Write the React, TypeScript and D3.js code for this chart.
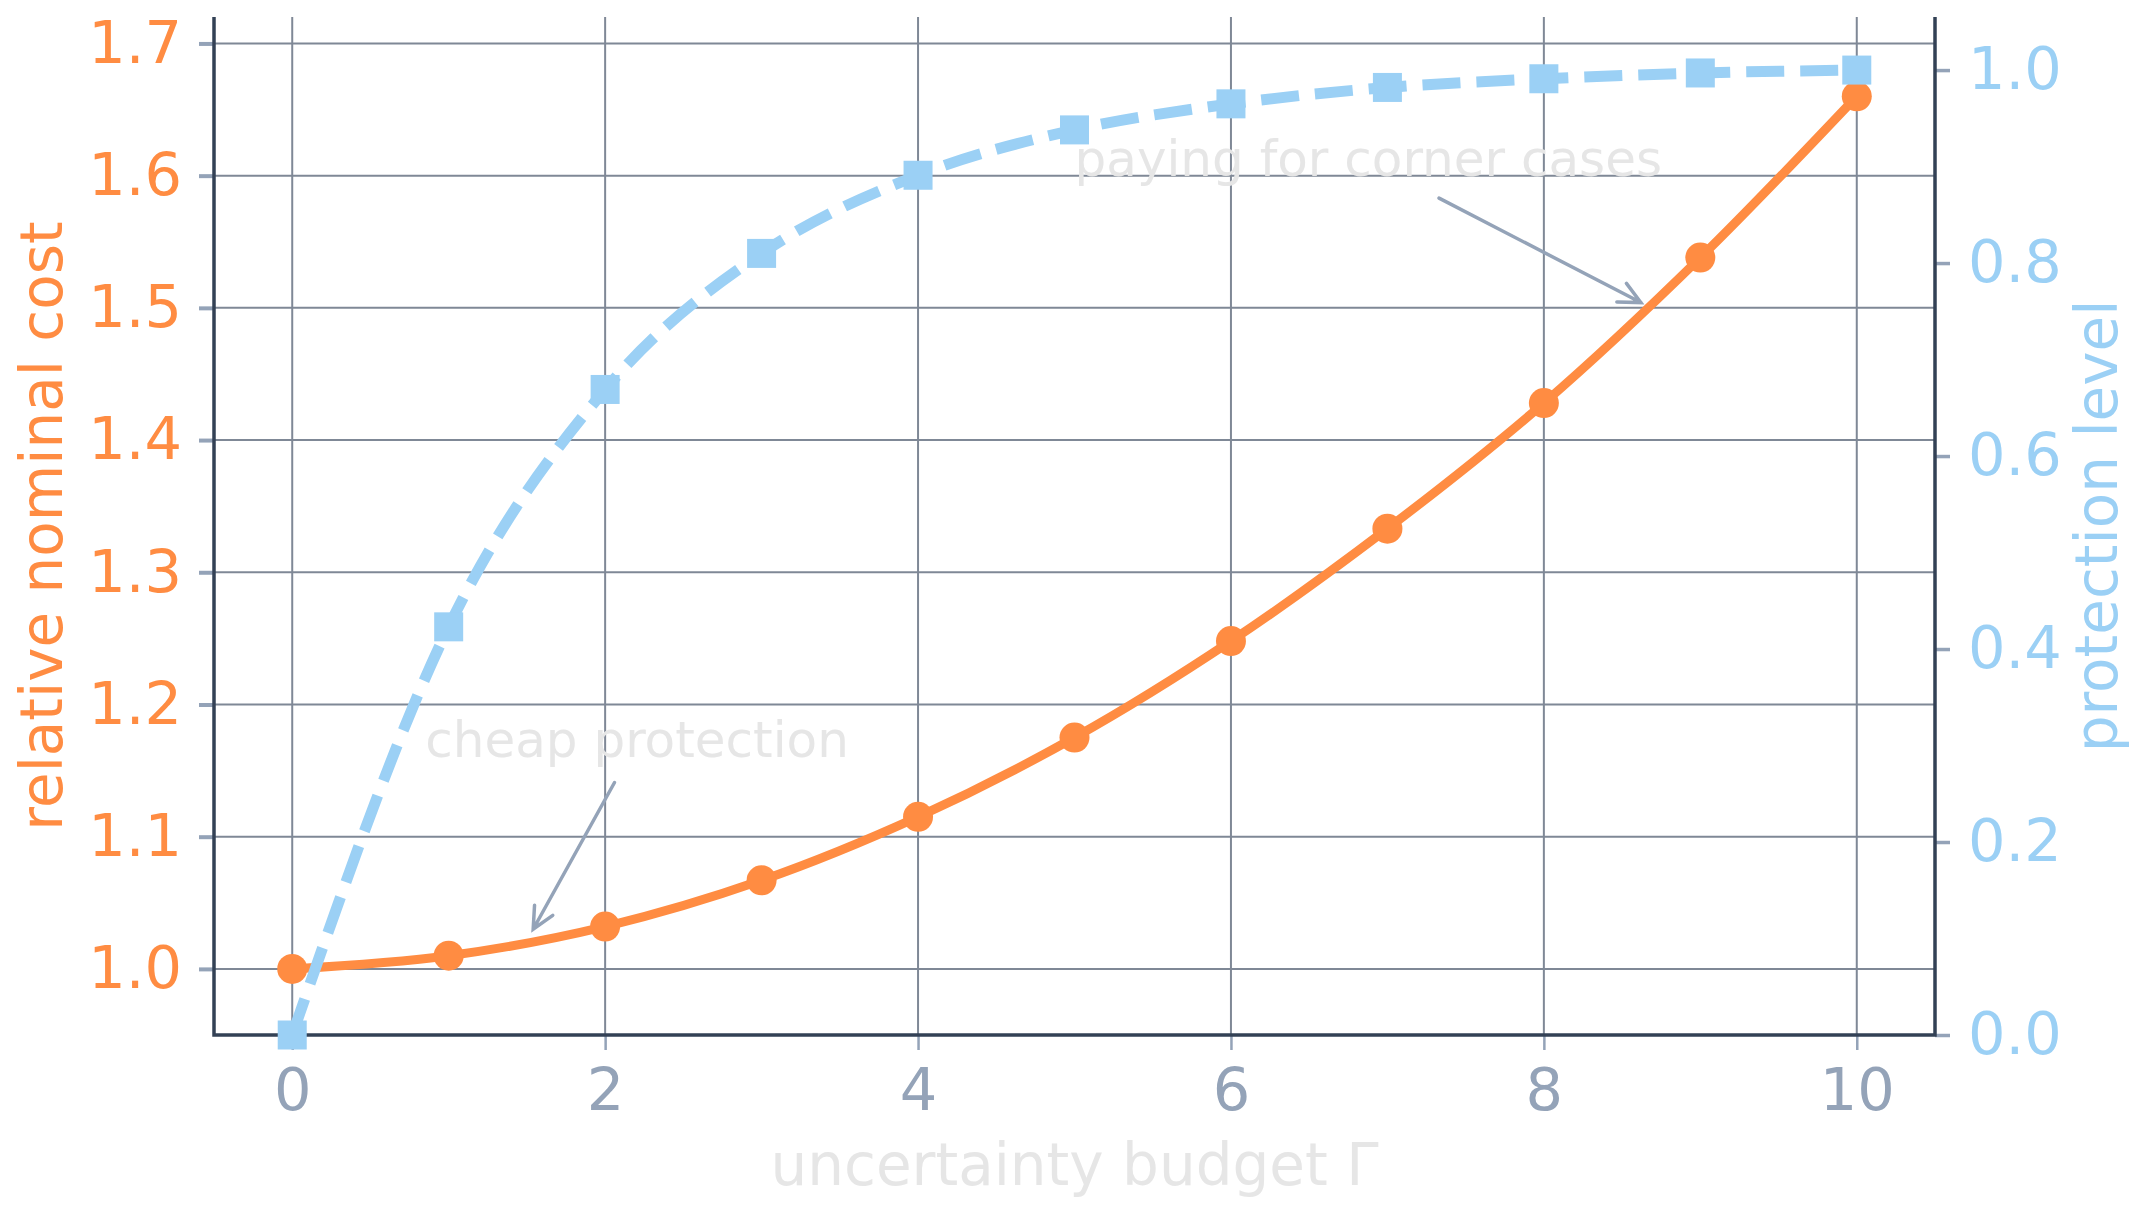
import React, { useEffect, useRef } from 'react';
import * as d3 from 'd3';

// uncertainty budget values on the x axis
const budgets = [0, 1, 2, 3, 4, 5, 6, 7, 8, 9, 10];
// relative nominal cost (left axis)
const nominalCost = [1.0, 1.01, 1.032, 1.067, 1.115, 1.175, 1.248, 1.333, 1.428, 1.538, 1.66];
// protection level (right axis)
const protection = [0.0, 0.423, 0.669, 0.81, 0.891, 0.938, 0.965, 0.982, 0.991, 0.997, 1.0];

const xTicks = [0, 2, 4, 6, 8, 10];
const leftTicks = [1.0, 1.1, 1.2, 1.3, 1.4, 1.5, 1.6, 1.7];
const rightTicks = [0.0, 0.2, 0.4, 0.6, 0.8, 1.0];

// annotations: text anchor and arrow [from, to] in data coords (left axis)
const annotations = [
  { text: 'paying for corner cases', at: [5.0, 1.6], from: [7.33, 1.583], to: [8.62, 1.504] },
  { text: 'cheap protection', at: [0.85, 1.16], from: [2.06, 1.141], to: [1.54, 1.03] },
];

const W = 2147;
const H = 1216;
const ORANGE = '#ff8c42';
const BLUE = '#9bd0f5';
const SPINE = '#334155';
const TICK = '#94a3b8';
const GRID = '#7f8896';
const FAINT = '#e6e6e6';
const FONT = '"DejaVu Sans", sans-serif';

const App = () => {
  const svgRef = useRef(null);

  useEffect(() => {
    document.body.style.margin = '0';
    const svg = d3.select(svgRef.current);
    svg.selectAll('*').remove();

    const plot = { left: 214, right: 1935, top: 17, bottom: 1035 };

    const x = d3.scaleLinear().domain([-0.5, 10.5]).range([plot.left, plot.right]);
    const yL = d3.scaleLinear().domain([0.95, 1.72]).range([plot.bottom, plot.top]);
    const yR = d3.scaleLinear().domain([0, 1.055]).range([plot.bottom, plot.top]);

    // grid
    const grid = svg.append('g');
    grid
      .selectAll('line.v')
      .data(xTicks)
      .join('line')
      .attr('x1', (d) => x(d))
      .attr('x2', (d) => x(d))
      .attr('y1', plot.top)
      .attr('y2', plot.bottom)
      .attr('stroke', GRID)
      .attr('stroke-width', 2);
    grid
      .selectAll('line.h')
      .data(leftTicks)
      .join('line')
      .attr('x1', plot.left)
      .attr('x2', plot.right)
      .attr('y1', (d) => yL(d))
      .attr('y2', (d) => yL(d))
      .attr('stroke', GRID)
      .attr('stroke-width', 2);

    // axes
    const xAxis = d3.axisBottom(x).tickValues(xTicks).tickSize(15).tickPadding(18).tickFormat(d3.format('d'));
    const gx = svg.append('g').attr('transform', `translate(0,${plot.bottom})`).call(xAxis);
    gx.select('.domain').remove();
    gx.selectAll('line').attr('stroke', TICK).attr('stroke-width', 2.5);
    gx.selectAll('text')
      .attr('fill', TICK)
      .style('font-size', '59px')
      .style('font-family', FONT);

    const leftAxis = d3.axisLeft(yL).tickValues(leftTicks).tickSize(15).tickPadding(17).tickFormat(d3.format('.1f'));
    const gl = svg.append('g').attr('transform', `translate(${plot.left},0)`).call(leftAxis);
    gl.select('.domain').remove();
    gl.selectAll('line').attr('stroke', TICK).attr('stroke-width', 4);
    gl.selectAll('text')
      .attr('fill', ORANGE)
      .style('font-size', '59px')
      .style('font-family', FONT);

    const rightAxis = d3.axisRight(yR).tickValues(rightTicks).tickSize(15).tickPadding(18).tickFormat(d3.format('.1f'));
    const gr = svg.append('g').attr('transform', `translate(${plot.right},0)`).call(rightAxis);
    gr.select('.domain').remove();
    gr.selectAll('line').attr('stroke', TICK).attr('stroke-width', 3.5);
    gr.selectAll('text')
      .attr('fill', BLUE)
      .style('font-size', '59px')
      .style('font-family', FONT);

    // spines (no top)
    svg
      .append('path')
      .attr('d', `M${plot.left},${plot.top}V${plot.bottom}H${plot.right}V${plot.top}`)
      .attr('fill', 'none')
      .attr('stroke', SPINE)
      .attr('stroke-width', 3.5);

    // cost line
    const costPts = budgets.map((b, i) => [b, nominalCost[i]]);
    const costLine = d3
      .line()
      .x((d) => x(d[0]))
      .y((d) => yL(d[1]))
      .curve(d3.curveCatmullRom.alpha(0.5));
    svg
      .append('path')
      .datum(costPts)
      .attr('d', costLine)
      .attr('fill', 'none')
      .attr('stroke', ORANGE)
      .attr('stroke-width', 9);
    svg
      .append('g')
      .selectAll('circle')
      .data(costPts)
      .join('circle')
      .attr('cx', (d) => x(d[0]))
      .attr('cy', (d) => yL(d[1]))
      .attr('r', 15)
      .attr('fill', ORANGE);

    // protection line
    const protPts = budgets.map((b, i) => [b, protection[i]]);
    const protLine = d3
      .line()
      .x((d) => x(d[0]))
      .y((d) => yR(d[1]))
      .curve(d3.curveMonotoneX);
    svg
      .append('path')
      .datum(protPts)
      .attr('d', protLine)
      .attr('fill', 'none')
      .attr('stroke', BLUE)
      .attr('stroke-width', 11)
      .attr('stroke-dasharray', '38 16');
    const sq = 29;
    svg
      .append('g')
      .selectAll('rect')
      .data(protPts)
      .join('rect')
      .attr('x', (d) => x(d[0]) - sq / 2)
      .attr('y', (d) => yR(d[1]) - sq / 2)
      .attr('width', sq)
      .attr('height', sq)
      .attr('fill', BLUE);

    // annotations
    annotations.forEach((a) => {
      svg
        .append('text')
        .attr('x', x(a.at[0]))
        .attr('y', yL(a.at[1]))
        .attr('fill', FAINT)
        .style('font-size', '50px')
        .style('font-family', FONT)
        .text(a.text);

      const x1 = x(a.from[0]);
      const y1 = yL(a.from[1]);
      const x2 = x(a.to[0]);
      const y2 = yL(a.to[1]);
      const ang = Math.atan2(y2 - y1, x2 - x1);
      const hl = 24;
      const spread = Math.PI / 7;
      const h1 = [x2 - hl * Math.cos(ang - spread), y2 - hl * Math.sin(ang - spread)];
      const h2 = [x2 - hl * Math.cos(ang + spread), y2 - hl * Math.sin(ang + spread)];
      svg
        .append('path')
        .attr('d', `M${x1},${y1}L${x2},${y2}M${h1[0]},${h1[1]}L${x2},${y2}L${h2[0]},${h2[1]}`)
        .attr('fill', 'none')
        .attr('stroke', TICK)
        .attr('stroke-width', 3.5)
        .attr('stroke-linecap', 'round');
    });

    // axis labels
    svg
      .append('text')
      .attr('transform', `translate(62,${(plot.top + plot.bottom) / 2}) rotate(-90)`)
      .attr('text-anchor', 'middle')
      .attr('fill', ORANGE)
      .style('font-size', '58px')
      .style('font-family', FONT)
      .text('relative nominal cost');

    svg
      .append('text')
      .attr('transform', `translate(2117,${(plot.top + plot.bottom) / 2}) rotate(-90)`)
      .attr('text-anchor', 'middle')
      .attr('fill', BLUE)
      .style('font-size', '58px')
      .style('font-family', FONT)
      .text('protection level');

    svg
      .append('text')
      .attr('x', (plot.left + plot.right) / 2)
      .attr('y', 1185)
      .attr('text-anchor', 'middle')
      .attr('fill', FAINT)
      .style('font-size', '58px')
      .style('font-family', FONT)
      .text('uncertainty budget Γ');
  }, []);

  return <svg ref={svgRef} width={W} height={H} style={{ display: 'block', background: '#fff' }}></svg>;
};

export default App;
